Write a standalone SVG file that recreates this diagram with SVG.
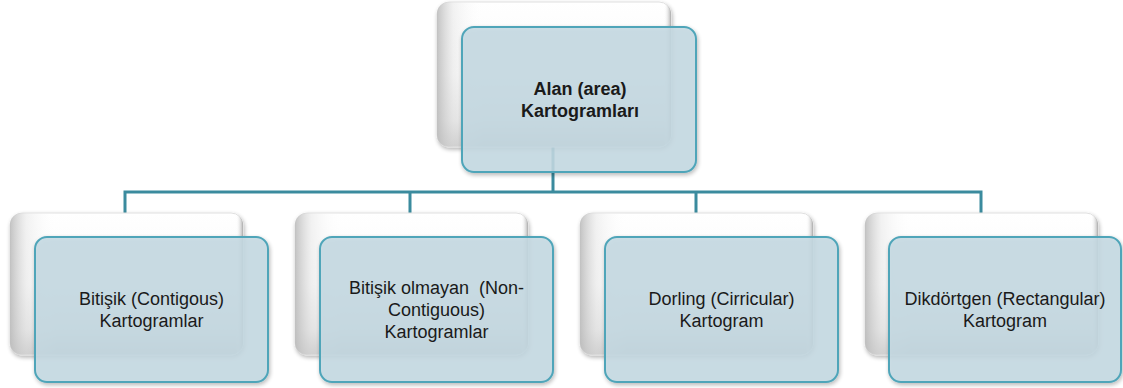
<svg xmlns="http://www.w3.org/2000/svg" width="1123" height="388" viewBox="0 0 1123 388">
<defs>
<linearGradient id="backV" x1="0" y1="0" x2="0" y2="1">
<stop offset="0" stop-color="#ffffff"/>
<stop offset="0.5" stop-color="#f9f9f9"/>
<stop offset="0.82" stop-color="#e2e2e2"/>
<stop offset="1" stop-color="#bdbdbd"/>
</linearGradient>
<linearGradient id="backH" x1="0" y1="0" x2="1" y2="0">
<stop offset="0" stop-color="#bcbcbc" stop-opacity="0.9"/>
<stop offset="0.07" stop-color="#e4e4e4" stop-opacity="0.5"/>
<stop offset="0.2" stop-color="#ffffff" stop-opacity="0"/>
<stop offset="0.97" stop-color="#ffffff" stop-opacity="0"/>
<stop offset="1" stop-color="#8f8f8f" stop-opacity="0.7"/>
</linearGradient>
<filter id="sh" x="-10%" y="-10%" width="125%" height="130%">
<feGaussianBlur in="SourceAlpha" stdDeviation="2"/>
<feOffset dx="1" dy="2" result="b"/>
<feComponentTransfer><feFuncA type="linear" slope="0.3"/></feComponentTransfer>
<feMerge><feMergeNode/><feMergeNode in="SourceGraphic"/></feMerge>
</filter>
</defs>
<style>
.back{fill:url(#backV);stroke:#e0e0e0;stroke-width:1}
.backh{fill:url(#backH);stroke:none}
.front{fill:#c6dbe4;fill-opacity:0.85;stroke:#50a5b9;stroke-width:2}
.conn{stroke:#3b8b9e;stroke-width:3;fill:none}
text{font-family:"Liberation Sans",Arial,sans-serif;font-size:18px;fill:#1a1a1a;text-anchor:middle}
.bold{font-weight:bold}
</style>
<g id="connectors">
<path class="conn" d="M553,147 V192 M125,192 H981 M125,190.5 V213 M410,190.5 V213 M696,190.5 V213 M981,190.5 V213"/>
</g>
<g id="node-root">
<rect class="back" x="437" y="2" width="234" height="145" rx="12" filter="url(#sh)"/>
<rect class="backh" x="437" y="2" width="234" height="145" rx="12"/>
<rect class="front" x="462" y="27" width="234" height="145" rx="12" filter="url(#sh)"/>
<text class="bold" x="580" y="95">Alan (area)</text>
<text class="bold" x="580" y="117">Kartogramları</text>
</g>
<g id="node-bitisik">
<rect class="back" x="10" y="213" width="233" height="142" rx="12" filter="url(#sh)"/>
<rect class="backh" x="10" y="213" width="233" height="142" rx="12"/>
<rect class="front" x="35" y="237" width="233" height="145" rx="12" filter="url(#sh)"/>
<text x="151.5" y="305">Bitişik (Contigous)</text>
<text x="151.5" y="327">Kartogramlar</text>
</g>
<g id="node-bitisik-olmayan">
<rect class="back" x="295" y="213" width="233" height="142" rx="12" filter="url(#sh)"/>
<rect class="backh" x="295" y="213" width="233" height="142" rx="12"/>
<rect class="front" x="320" y="237" width="233" height="145" rx="12" filter="url(#sh)"/>
<text x="436.5" y="294" xml:space="preserve">Bitişik olmayan  (Non-</text>
<text x="436.5" y="316">Contiguous)</text>
<text x="436.5" y="338">Kartogramlar</text>
</g>
<g id="node-dorling">
<rect class="back" x="580" y="213" width="233" height="142" rx="12" filter="url(#sh)"/>
<rect class="backh" x="580" y="213" width="233" height="142" rx="12"/>
<rect class="front" x="605" y="237" width="233" height="145" rx="12" filter="url(#sh)"/>
<text x="721.5" y="305">Dorling (Cirricular)</text>
<text x="721.5" y="327">Kartogram</text>
</g>
<g id="node-dikdortgen">
<rect class="back" x="865" y="213" width="233" height="142" rx="12" filter="url(#sh)"/>
<rect class="backh" x="865" y="213" width="233" height="142" rx="12"/>
<rect class="front" x="889" y="237" width="232" height="145" rx="12" filter="url(#sh)"/>
<text x="1005" y="305">Dikdörtgen (Rectangular)</text>
<text x="1005" y="327">Kartogram</text>
</g>
</svg>
